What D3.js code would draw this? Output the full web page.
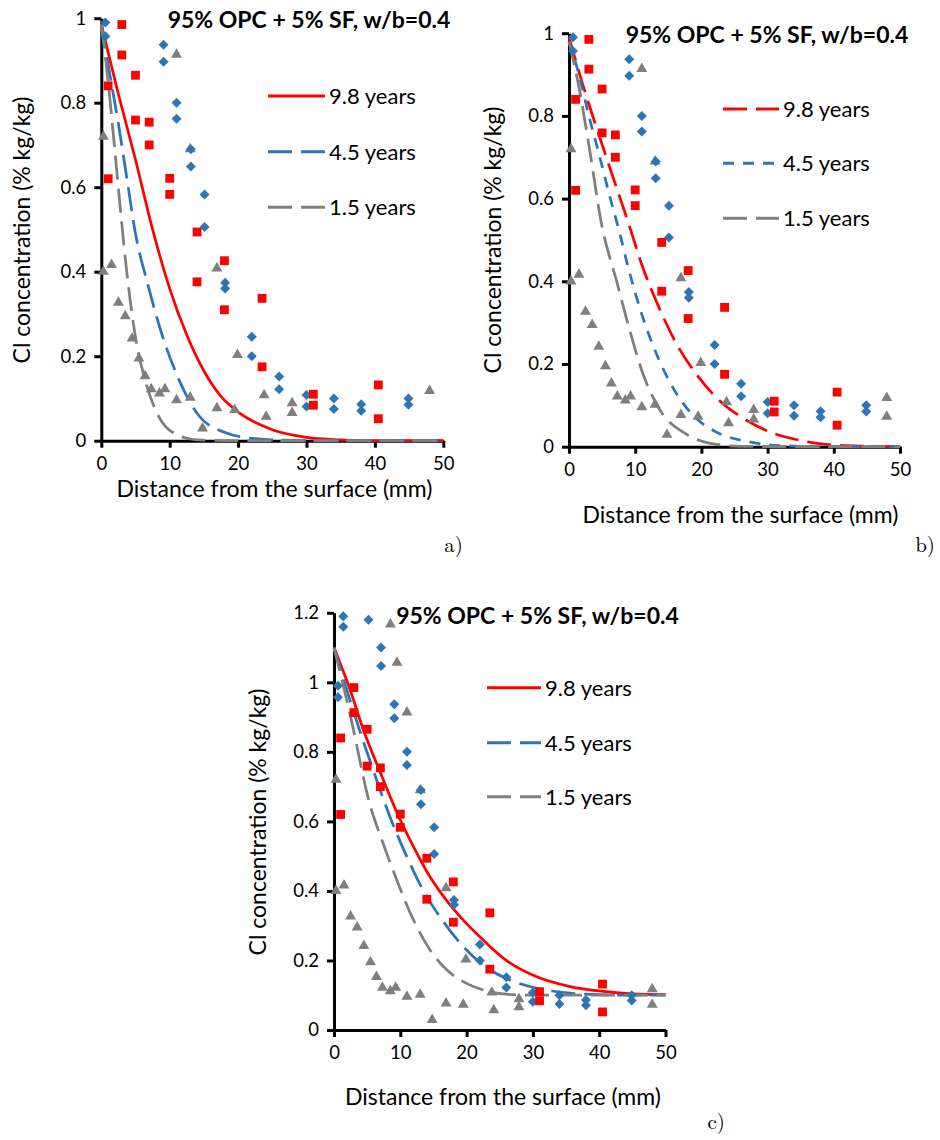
<!DOCTYPE html>
<html>
<head>
<meta charset="utf-8">
<script src="https://cdn.jsdelivr.net/npm/d3@7"></script>
<style>
  body { margin: 0; background: #fff; }
  svg text { font-family: Lato, "Open Sans", sans-serif; fill: #000; }
</style>
</head>
<body>
<svg id="fig" width="940" height="1140"></svg>
<script>
// ---- axis ticks and labels ----
const xTickValues = [0, 10, 20, 30, 40, 50];
const xTickLabels = ["0", "10", "20", "30", "40", "50"];
const yTickValuesAB = [0, 0.2, 0.4, 0.6, 0.8, 1];
const yTickLabelsAB = ["0", "0.2", "0.4", "0.6", "0.8", "1"];
const yTickValuesC = [0, 0.2, 0.4, 0.6, 0.8, 1, 1.2];
const yTickLabelsC = ["0", "0.2", "0.4", "0.6", "0.8", "1", "1.2"];

const seriesNames = ["9.8 years", "4.5 years", "1.5 years"];
const titleText = "95% OPC + 5% SF, w/b=0.4";
const xTitle = "Distance from the surface (mm)";
const yTitle = "Cl concentration (% kg/kg)";

// ---- measured chloride profiles (depth in mm, Cl in % kg/kg) ----
// 9.8 years exposure
const depth98 = [1, 1, 3, 3, 5, 5, 7, 7, 10, 10, 14, 14, 18, 18, 23.5, 23.5, 31, 31, 40.5, 40.5];
const cl98 = [0.84, 0.62, 0.985, 0.913, 0.865, 0.759, 0.754, 0.70, 0.621, 0.583,
              0.494, 0.376, 0.426, 0.31, 0.337, 0.175, 0.110, 0.084, 0.132, 0.052];
// 4.5 years exposure
const depth45 = [0.6, 0.6, 1.4, 1.4, 5.2, 7.1, 7.1, 9.1, 9.1, 11, 11, 13.1, 13.1, 15.1, 15.1,
                 18.1, 18.1, 22, 22, 26, 26, 30, 30, 34, 34, 38, 38, 44.9, 44.9];
const cl45 = [0.99, 0.957, 1.19, 1.16, 1.18, 1.10, 1.047, 0.937, 0.897, 0.80, 0.762, 0.69, 0.649,
              0.583, 0.506, 0.374, 0.36, 0.246, 0.20, 0.152, 0.122, 0.108, 0.081, 0.10, 0.075,
              0.086, 0.071, 0.10, 0.085];
// 1.5 years exposure
const depth15 = [0.3, 0.3, 1.5, 2.5, 3.5, 4.5, 5.5, 6.4, 7.3, 8.5, 8.5, 9.3, 9.5, 11, 11, 13, 13,
                 14.8, 16.9, 16.9, 19.5, 19.9, 23.8, 24.1, 27.9, 27.9, 48, 48];
const cl15 = [0.72, 0.40, 0.416, 0.327, 0.295, 0.242, 0.195, 0.153, 0.122, 0.112, 1.167, 0.122,
              1.057, 0.914, 0.096, 0.69, 0.102, 0.029, 0.408, 0.077, 0.073, 0.203, 0.108, 0.057,
              0.089, 0.066, 0.118, 0.073];

// ---- predicted profiles, panel a ----
const aX98 = [0, 2.5, 5, 7.5, 10, 12.5, 15, 17.5, 20, 25, 30, 35, 40, 50];
const aY98 = [0.985, 0.82, 0.665, 0.50, 0.36, 0.25, 0.165, 0.105, 0.068, 0.026, 0.008, 0.002, 0, 0];
const aX45 = [0, 1, 2.5, 3.75, 5, 6.8, 8.8, 11.2, 14, 18, 22.5, 30, 50];
const aY45 = [0.985, 0.89, 0.75, 0.62, 0.49, 0.37, 0.255, 0.15, 0.065, 0.02, 0.005, 0, 0];
const aX15 = [0, 1, 1.9, 2.9, 3.65, 4.4, 5.1, 6.3, 8.3, 11.2, 14, 20, 50];
const aY15 = [0.985, 0.85, 0.70, 0.53, 0.41, 0.31, 0.235, 0.15, 0.06, 0.013, 0.002, 0, 0];

// ---- predicted profiles, panel b ----
const bX98 = [0, 2, 4.5, 7, 9, 11, 13.5, 16.2, 19.5, 22.5, 26, 30, 35, 40, 45, 50];
const bY98 = [0.99, 0.88, 0.755, 0.635, 0.54, 0.44, 0.34, 0.25, 0.17, 0.115, 0.072, 0.038, 0.015, 0.004, 0.001, 0];
const bX45 = [0, 1.5, 3, 4.5, 6, 7.6, 9, 11, 13.2, 15.8, 18.8, 22.3, 26.8, 33, 40, 50];
const bY45 = [0.98, 0.90, 0.80, 0.71, 0.615, 0.52, 0.43, 0.32, 0.225, 0.14, 0.075, 0.035, 0.013, 0.002, 0, 0];
const bX15 = [0, 1.5, 3, 4.9, 7.2, 9.2, 11.2, 13.7, 17.8, 21.3, 26, 35, 50];
const bY15 = [0.98, 0.87, 0.73, 0.54, 0.40, 0.28, 0.175, 0.09, 0.03, 0.008, 0.001, 0, 0];

// ---- predicted profiles, panel c ----
const cX98 = [0, 2.4, 4.4, 7, 9.5, 12, 14.5, 17, 19.5, 22, 26, 30.6, 35.6, 40.6, 45, 50];
const cY98 = [1.10, 0.98, 0.865, 0.74, 0.625, 0.527, 0.44, 0.372, 0.316, 0.268, 0.20, 0.153, 0.125, 0.111, 0.104, 0.102];
const cX45 = [0, 1.9, 3.9, 5.9, 8.45, 11, 13.5, 16, 19.5, 23, 26, 30.6, 35.6, 40, 45, 50];
const cY45 = [1.10, 0.98, 0.86, 0.748, 0.613, 0.498, 0.40, 0.325, 0.24, 0.18, 0.148, 0.12, 0.106, 0.102, 0.1, 0.1];
const cX15 = [0, 2.4, 5.4, 7.4, 9.5, 12, 14.5, 17, 19.5, 22.5, 26, 30, 40, 50];
const cY15 = [1.10, 0.91, 0.65, 0.537, 0.43, 0.316, 0.23, 0.173, 0.139, 0.115, 0.103, 0.1, 0.1, 0.1];

// ---- styling ----
const colors = ["#FF0000", "#2E75B6", "#7F7F7F"];
const LONG = "24,9", SHORT = "11,9";
const FS_TICK = 18.5, FS_AXIS = 23, FS_TITLE = 23, FS_LEGEND = 22;

const measured = [
  { xs: depth98, ys: cl98, shape: "square" },
  { xs: depth45, ys: cl45, shape: "diamond" },
  { xs: depth15, ys: cl15, shape: "triangle" }
];

// layout of the three panels
const panels = [
  {
    tag: "a)", xr: [101.3, 443.3], yr: [440.7, 18.2], yMax: 1,
    yTicks: yTickValuesAB, yLabels: yTickLabelsAB,
    curves: [[aX98, aY98], [aX45, aY45], [aX15, aY15]],
    dashes: [null, LONG, LONG],
    omit: { series: 2, count: 1 },            // last grey pair point not plotted here
    legend: { x0: 268, x1: 325, ys: [96, 151.7, 207.3] },
    title: [309, 19.5], yTitle: [22, 230], xTitle: [274.5, 489], tagPos: [463, 545]
  },
  {
    tag: "b)", xr: [569, 900], yr: [446.7, 33.2], yMax: 1,
    yTicks: yTickValuesAB, yLabels: yTickLabelsAB,
    curves: [[bX98, bY98], [bX45, bY45], [bX15, bY15]],
    dashes: [LONG, SHORT, LONG],
    omit: null,
    legend: { x0: 723, x1: 779, ys: [109, 163.3, 218.3] },
    title: [767, 34.7], yTitle: [493, 240], xTitle: [740.5, 515], tagPos: [935, 545]
  },
  {
    tag: "c)", xr: [334, 665.5], yr: [1030, 612.8], yMax: 1.2,
    yTicks: yTickValuesC, yLabels: yTickLabelsC,
    curves: [[cX98, cY98], [cX45, cY45], [cX15, cY15]],
    dashes: [null, LONG, LONG],
    omit: null,
    legend: { x0: 487, x1: 541, ys: [687.7, 742.7, 796.7] },
    title: [537.5, 615.5], yTitle: [258, 822], xTitle: [503, 1097], tagPos: [725, 1122]
  }
];

const svg = d3.select("#fig");
svg.append("rect").attr("width", 940).attr("height", 1140).attr("fill", "#fff");

function markerPath(shape) {
  if (shape === "square") return d3.symbol(d3.symbolSquare, 78)();
  if (shape === "diamond") return d3.symbol(d3.symbolSquare, 50)();
  return d3.symbol(d3.symbolTriangle, 52)();
}

panels.forEach(p => {
  const g = svg.append("g");
  const x = d3.scaleLinear().domain([0, 50]).range(p.xr);
  const y = d3.scaleLinear().domain([0, p.yMax]).range(p.yr);

  // axes
  const xAxis = d3.axisBottom(x).tickValues(xTickValues)
    .tickFormat((d, i) => xTickLabels[i]).tickSize(7).tickSizeOuter(0).tickPadding(9);
  const yAxis = d3.axisLeft(y).tickValues(p.yTicks)
    .tickFormat((d, i) => p.yLabels[i]).tickSize(7).tickSizeOuter(0).tickPadding(8);

  const gx = g.append("g").attr("transform", `translate(0,${p.yr[0]})`).call(xAxis);
  const gy = g.append("g").attr("transform", `translate(${p.xr[0]},0)`).call(yAxis);
  [gx, gy].forEach(ax => {
    ax.select(".domain").attr("stroke", "#000").attr("stroke-width", 3);
    ax.selectAll(".tick line").attr("stroke", "#000").attr("stroke-width", 3);
    ax.selectAll(".tick text").attr("font-size", FS_TICK).attr("font-family", "Lato");
  });

  // predicted curves
  const line = d3.line().x(d => x(d[0])).y(d => y(d[1])).curve(d3.curveMonotoneX);
  p.curves.forEach((c, i) => {
    const pts = c[0].map((v, k) => [v, c[1][k]]);
    g.append("path").datum(pts)
      .attr("d", line)
      .attr("fill", "none")
      .attr("stroke", colors[i])
      .attr("stroke-width", 2.75)
      .attr("stroke-dasharray", p.dashes[i]);
  });

  // measured points: triangles, then diamonds, then squares on top
  [2, 1, 0].forEach(si => {
    const m = measured[si];
    let pts = m.xs.map((v, k) => ({ d: v, c: m.ys[k] }));
    if (p.omit && p.omit.series === si) pts = pts.slice(0, pts.length - p.omit.count);
    pts = pts.filter(q => q.c <= p.yMax + 1e-9);
    g.selectAll(null).data(pts).enter().append("path")
      .attr("d", markerPath(m.shape))
      .attr("transform", q => `translate(${x(q.d)},${y(q.c)})` + (m.shape === "diamond" ? " rotate(45)" : ""))
      .attr("fill", colors[si]);
  });

  // legend
  seriesNames.forEach((name, i) => {
    const ly = p.legend.ys[i];
    g.append("line")
      .attr("x1", p.legend.x0).attr("x2", p.legend.x1)
      .attr("y1", ly).attr("y2", ly)
      .attr("stroke", colors[i]).attr("stroke-width", 3)
      .attr("stroke-dasharray", p.dashes[i]);
    g.append("text")
      .attr("x", p.legend.x1 + 4).attr("y", ly)
      .attr("dy", "0.36em")
      .attr("font-size", FS_LEGEND)
      .text(name);
  });

  // title
  g.append("text")
    .attr("x", p.title[0]).attr("y", p.title[1]).attr("dy", "0.36em")
    .attr("text-anchor", "middle").attr("font-size", FS_TITLE).attr("font-weight", "bold")
    .text(titleText);

  // axis titles
  g.append("text")
    .attr("x", p.xTitle[0]).attr("y", p.xTitle[1]).attr("dy", "0.36em")
    .attr("text-anchor", "middle").attr("font-size", FS_AXIS)
    .text(xTitle);
  g.append("text")
    .attr("transform", `translate(${p.yTitle[0]},${p.yTitle[1]}) rotate(-90)`)
    .attr("dy", "0.36em")
    .attr("text-anchor", "middle").attr("font-size", FS_AXIS)
    .text(yTitle);

  // panel tag
  g.append("text")
    .attr("x", p.tagPos[0]).attr("y", p.tagPos[1]).attr("dy", "0.32em")
    .attr("text-anchor", "end")
    .style("font-family", "'Latin Modern Roman', 'DejaVu Serif', serif")
    .attr("font-size", 21)
    .text(p.tag);
});
</script>
</body>
</html>
